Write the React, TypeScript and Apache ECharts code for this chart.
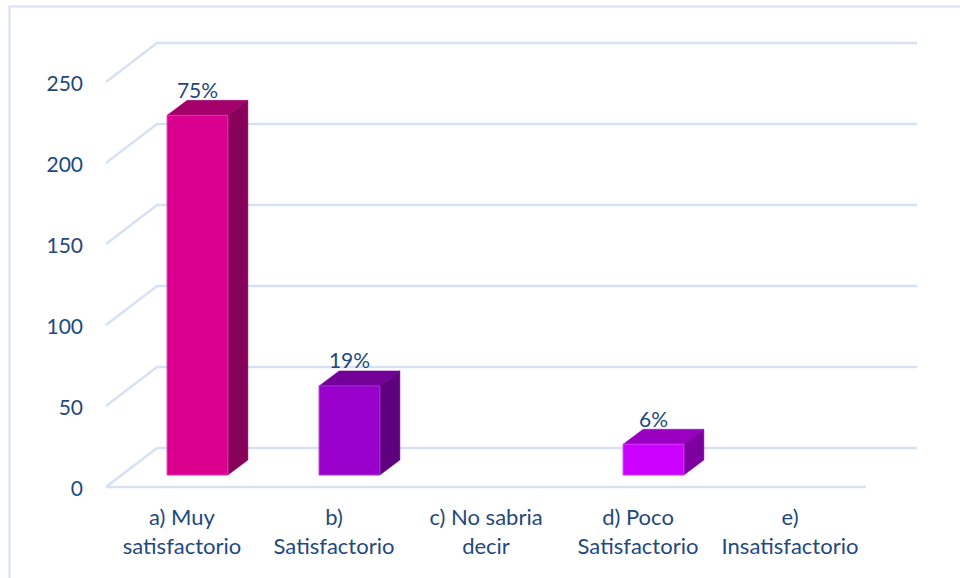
import React, { useEffect, useRef } from "react";
import * as echarts from "echarts";

const categories = [
  "a) Muy\nsatisfactorio",
  "b)\nSatisfactorio",
  "c) No sabria\ndecir",
  "d) Poco\nSatisfactorio",
  "e)\nInsatisfactorio",
];
const values = [222, 55, 0, 19, 0];
const percentLabels = ["75%", "19%", "", "6%", ""];
const yTicks = [0, 50, 100, 150, 200, 250];
const frontColors = ["#d9008f", "#9900cc", "#000000", "#cc00ff", "#000000"];
const topColors = ["#a3006b", "#730099", "#000000", "#9900c0", "#000000"];
const sideColors = ["#87005a", "#5f007f", "#000000", "#7f00a0", "#000000"];
const edgeColors = ["#e233a5", "#a933d6", "#000000", "#d633ff", "#000000"];

const TEXT = "#1f497d";
const LINE = "#d6e2f3";
const FONT = "Lato, Carlito, sans-serif";

export default function App() {
  const ref = useRef<HTMLDivElement>(null);
  useEffect(() => {
    const chart = echarts.init(ref.current!, null, { renderer: "svg" });
    const wallDx = 51;
    const wallDy = 39;
    const option = {
      animation: false,
      backgroundColor: "#ffffff",
      textStyle: { fontFamily: FONT },
      grid: { left: 106, top: 82, width: 760, height: 405 },
      graphic: [
        {
          type: "polyline",
          silent: true,
          shape: { points: [[9.5, 578], [9.5, 6.5], [960, 6.5]] },
          style: { stroke: LINE, lineWidth: 2, fill: "none" },
        },
      ],
      xAxis: {
        type: "category",
        data: categories,
        axisLine: { show: false },
        axisTick: { show: false },
        axisLabel: {
          color: TEXT,
          fontSize: 22,
          fontFamily: FONT,
          lineHeight: 29,
          margin: 15,
          interval: 0,
        },
      },
      yAxis: {
        type: "value",
        min: 0,
        max: 250,
        interval: 50,
        splitLine: { show: false },
        axisLine: { show: false },
        axisTick: { show: false },
        axisLabel: { color: TEXT, fontSize: 21, fontFamily: FONT, margin: 23 },
      },
      series: [
        {
          type: "custom",
          silent: true,
          data: yTicks.map((t) => [0, t]),
          encode: { x: 0, y: 1 },
          renderItem: (params: any, api: any) => {
            const v = api.value(1);
            const y = api.coord([0, v])[1];
            const { x, width } = params.coordSys;
            const style = { stroke: LINE, lineWidth: 2.5, fill: "none" };
            const children: any[] = [
              {
                type: "polyline",
                shape: {
                  points: [
                    [x, y],
                    [x + wallDx, y - wallDy],
                    [x + width + wallDx, y - wallDy],
                  ],
                },
                style,
              },
            ];
            if (v === 0) {
              children.push({
                type: "line",
                shape: { x1: x, y1: y, x2: x + width, y2: y },
                style,
              });
            }
            return { type: "group", children };
          },
        },
        {
          type: "custom",
          silent: true,
          data: values.map((v, i) => [i, v]),
          encode: { x: 0, y: 1 },
          renderItem: (_params: any, api: any) => {
            const i = api.value(0);
            const v = api.value(1);
            if (!v) return { type: "group", children: [] };
            const band = api.size([1, 0])[0];
            const w = band * 0.4;
            const cx = api.coord([i, 0])[0] + band * 0.102;
            const baseY = api.coord([i, 0])[1] - 12;
            const topY = api.coord([i, v])[1] - 12;
            const l = cx - w / 2;
            const r = cx + w / 2;
            const dx = 20;
            const dy = 15;
            return {
              type: "group",
              children: [
                {
                  type: "polygon",
                  shape: { points: [[l, topY], [r, topY], [r + dx, topY - dy], [l + dx, topY - dy]] },
                  style: { fill: topColors[i], stroke: topColors[i], lineWidth: 0.5 },
                },
                {
                  type: "polygon",
                  shape: { points: [[r, topY], [r + dx, topY - dy], [r + dx, baseY - dy], [r, baseY]] },
                  style: { fill: sideColors[i], stroke: sideColors[i], lineWidth: 0.5 },
                },
                {
                  type: "rect",
                  shape: { x: l, y: topY, width: w, height: baseY - topY },
                  style: { fill: frontColors[i], stroke: edgeColors[i], lineWidth: 1 },
                },
                {
                  type: "text",
                  style: {
                    text: percentLabels[i],
                    x: cx,
                    y: topY - 26,
                    fill: TEXT,
                    font: `21px ${FONT}`,
                    align: "center",
                    verticalAlign: "middle",
                  },
                },
              ],
            };
          },
        },
      ],
    };
    chart.setOption(option as any);
    return () => chart.dispose();
  }, []);
  return (
    <div
      ref={ref}
      style={{ position: "absolute", left: 0, top: 0, width: 960, height: 578 }}
    />
  );
}
